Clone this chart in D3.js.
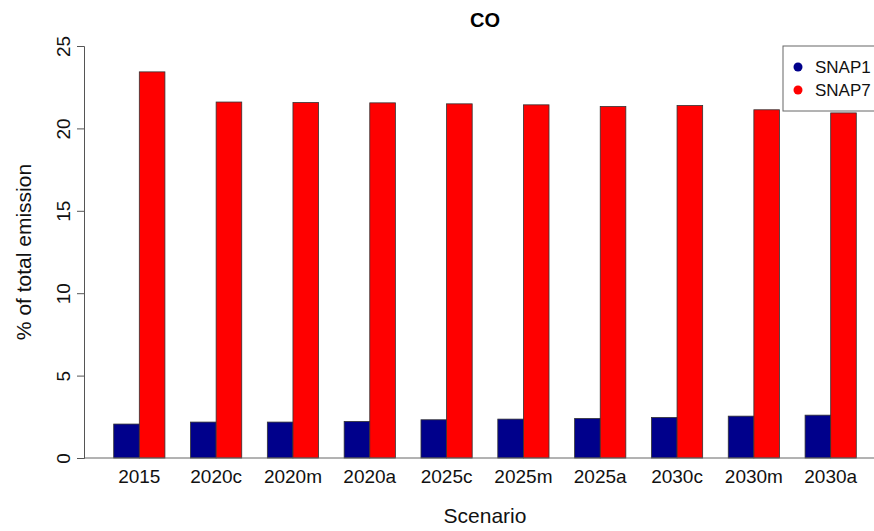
<!DOCTYPE html>
<html>
<head>
<meta charset="utf-8">
<script src="https://cdn.jsdelivr.net/npm/d3@7"></script>
<style>
  body { margin: 0; background: #fff; }
  svg { display: block; font-family: "Liberation Sans", Arial, Helvetica, sans-serif; }
</style>
</head>
<body>
<div id="chart"></div>
<script>
const scenarios = ['2015', '2020c', '2020m', '2020a', '2025c', '2025m', '2025a', '2030c', '2030m', '2030a'];
const seriesNames = ['SNAP1', 'SNAP7'];
const snap1Values = [2.06, 2.18, 2.18, 2.22, 2.32, 2.36, 2.40, 2.46, 2.54, 2.60];
const snap7Values = [23.43, 21.60, 21.57, 21.55, 21.49, 21.43, 21.33, 21.39, 21.13, 20.94];
const yTicks = [0, 5, 10, 15, 20, 25];
const seriesColors = ['#00008B', '#FF0000'];

const width = 874;
const height = 531;
const plot = { left: 84, right: 886, top: 46, bottom: 458 };

const svg = d3.select('#chart').append('svg')
    .attr('width', width)
    .attr('height', height);

// group scale (mimics R barplot: space 1 before each pair, 4% axis expansion)
const xScale = d3.scaleBand()
    .domain(scenarios)
    .range([plot.left, plot.right])
    .paddingInner(1 / 3)
    .paddingOuter(0.3867);

const xInner = d3.scaleBand()
    .domain(seriesNames)
    .range([0, xScale.bandwidth()]);

const yScale = d3.scaleLinear()
    .domain([0, 25])
    .range([plot.bottom, plot.top]);

const colorScale = d3.scaleOrdinal(seriesNames, seriesColors);

const rows = scenarios.map((s, i) => ({
  scenario: s,
  values: [
    { key: 'SNAP1', value: snap1Values[i] },
    { key: 'SNAP7', value: snap7Values[i] },
  ],
}));

// bars
const groups = svg.append('g')
  .selectAll('g')
  .data(rows)
  .join('g')
    .attr('transform', d => `translate(${xScale(d.scenario)},0)`);

groups.selectAll('rect')
  .data(d => d.values)
  .join('rect')
    .attr('x', d => xInner(d.key))
    .attr('y', d => yScale(d.value))
    .attr('width', xInner.bandwidth())
    .attr('height', d => yScale(0) - yScale(d.value))
    .attr('fill', d => colorScale(d.key))
    .attr('stroke', '#333')
    .attr('stroke-width', 0.8);

// baseline
svg.append('line')
    .attr('x1', plot.left)
    .attr('x2', plot.right)
    .attr('y1', yScale(0))
    .attr('y2', yScale(0))
    .attr('stroke', '#666')
    .attr('stroke-width', 1);

// y axis
const yAxis = d3.axisLeft(yScale).tickValues(yTicks).tickSize(7).tickPadding(0).tickFormat(d3.format('d'));
const yAxisG = svg.append('g')
    .attr('transform', `translate(${plot.left},0)`)
    .call(yAxis);
yAxisG.select('.domain').attr('stroke', '#555');
yAxisG.selectAll('.tick line').attr('stroke', '#555');
yAxisG.selectAll('.tick text')
    .attr('font-size', 19)
    .attr('fill', '#111')
    .attr('text-anchor', 'middle')
    .attr('x', null)
    .attr('dy', null)
    .attr('transform', 'translate(-14,0) rotate(-90)');

// x labels
const xAxis = d3.axisBottom(xScale).tickSize(0).tickPadding(0);
const xAxisG = svg.append('g')
    .attr('transform', `translate(0,${plot.bottom})`)
    .call(xAxis);
xAxisG.select('.domain').remove();
xAxisG.selectAll('.tick text')
    .attr('font-size', 19)
    .attr('fill', '#111')
    .attr('dy', null)
    .attr('y', 25);

// title and axis labels
svg.append('text')
    .attr('x', (plot.left + plot.right) / 2)
    .attr('y', 27)
    .attr('text-anchor', 'middle')
    .attr('font-size', 20)
    .attr('font-weight', 'bold')
    .text('CO');

svg.append('text')
    .attr('x', (plot.left + plot.right) / 2)
    .attr('y', 523)
    .attr('text-anchor', 'middle')
    .attr('font-size', 21)
    .attr('fill', '#111')
    .text('Scenario');

svg.append('text')
    .attr('transform', `translate(31,${(plot.top + plot.bottom) / 2}) rotate(-90)`)
    .attr('text-anchor', 'middle')
    .attr('font-size', 21)
    .attr('fill', '#111')
    .text('% of total emission');

// legend
const legend = svg.append('g').attr('transform', 'translate(783,46)');
legend.append('rect')
    .attr('width', 120)
    .attr('height', 65)
    .attr('fill', '#fff')
    .attr('stroke', '#666')
    .attr('stroke-width', 1);

const legendItems = legend.selectAll('g.item')
  .data(seriesNames)
  .join('g')
    .attr('class', 'item')
    .attr('transform', (d, i) => `translate(0,${21 + i * 23})`);

legendItems.append('circle')
    .attr('cx', 15)
    .attr('cy', 0)
    .attr('r', 4.5)
    .attr('fill', d => colorScale(d));

legendItems.append('text')
    .attr('x', 32)
    .attr('y', 6)
    .attr('font-size', 17)
    .attr('fill', '#111')
    .text(d => d);
</script>
</body>
</html>
